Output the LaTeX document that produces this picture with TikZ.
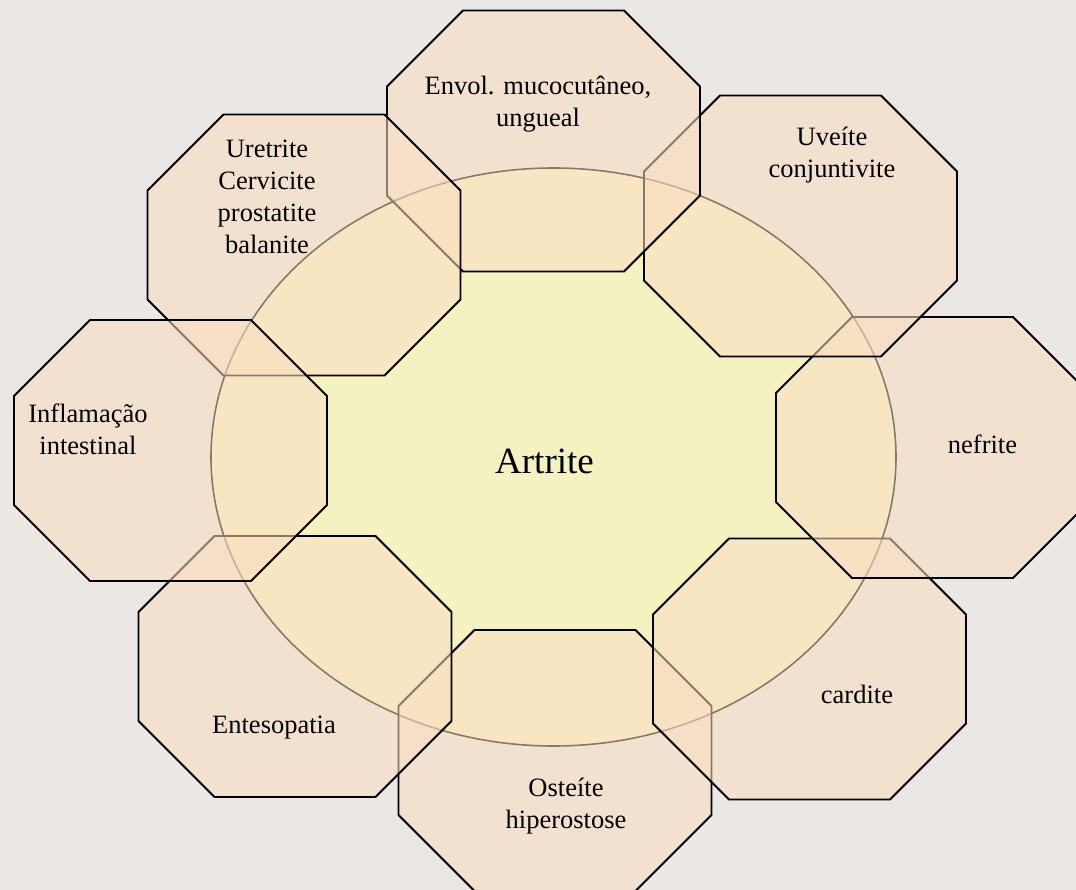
\documentclass[tikz,border=0pt]{standalone}
\usepackage{fontspec}
\setmainfont{Liberation Serif}
\definecolor{bgc}{HTML}{EBE7E4}
\definecolor{ellfill}{HTML}{F5F2C1}
\definecolor{octfill}{RGB}{250,221,193}
\tikzset{
  octo/.style={draw=black, line width=1.8bp, fill=octfill, fill opacity=0.55, line join=miter},
  lbl/.style={font=\fontsize{26.5bp}{31.7bp}\selectfont, align=center, anchor=base, inner sep=0pt, text=black},
}
\newcommand{\octagonat}[2]{%
  \path[octo, shift={(#1,#2)}] (-80.5,-130.5) -- (80.5,-130.5) -- (156.5,-54.5) -- (156.5,54.5)
    -- (80.5,130.5) -- (-80.5,130.5) -- (-156.5,54.5) -- (-156.5,-54.5) -- cycle;}
\begin{document}
\begin{tikzpicture}[x=1bp, y=-1bp]
\useasboundingbox (0,0) rectangle (1076,890);
\fill[bgc] (0,0) rectangle (1076,890);
\clip (0,0) rectangle (1076,890);
% central ellipse
\path[draw=black, line width=1.6bp, fill=ellfill] (553.5,457) ellipse [x radius=342.5, y radius=289];
\node[lbl, font=\fontsize{37bp}{44bp}\selectfont] (artrite) at (544.5,473) {Artrite};
% octagons (drawing order as in reference)
\octagonat{555}{760.5}   % Osteite
\octagonat{809.5}{669}   % cardite
\octagonat{932.5}{447.5} % nefrite
\octagonat{800.5}{226}   % Uveite
\octagonat{543.5}{141}   % Envol
\octagonat{304}{245}     % Uretrite
\octagonat{295}{666.5}   % Entesopatia
\octagonat{170.5}{450.5} % Inflamacao
% labels (anchor = baseline of the last line)
\node[lbl] (envol) at (538,126) {Envol. mucocutâneo,\\ungueal};
\node[lbl] (uretrite) at (267,253) {Uretrite\\Cervicite\\prostatite\\balanite};
\node[lbl] (uveite) at (832,177) {Uveíte\\conjuntivite};
\node[lbl] (inflam) at (88,454) {Inflamação\\intestinal};
\node[lbl] (nefrite) at (982.5,453) {nefrite};
\node[lbl] (entes) at (274,733) {Entesopatia};
\node[lbl] (cardite) at (857,703) {cardite};
\node[lbl] (osteite) at (566,828) {Osteíte\\hiperostose};
\end{tikzpicture}
\end{document}
